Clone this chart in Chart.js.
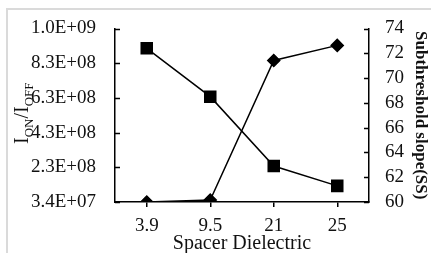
<!DOCTYPE html>
<html>
<head>
<meta charset="utf-8">
<script src="https://cdn.jsdelivr.net/npm/chart.js@4/dist/chart.umd.min.js"></script>
<style>
  html, body { margin: 0; padding: 0; background: #fff; }
  #wrap { width: 431px; height: 253px; }
</style>
</head>
<body>
<div id="wrap"><canvas id="spacerChart"></canvas></div>
<script>
const categories = ["3.9", "9.5", "21", "25"];
const ionIoff = [3.4e7, 4.5e7, 8.22e8, 9.06e8];
const ssValues = [72.4, 68.5, 62.9, 61.3];
const leftTickLabels = ["3.4E+07", "2.3E+08", "4.3E+08", "6.3E+08", "8.3E+08", "1.0E+09"];
const leftMin = 3.4e7, leftMax = 1.0e9;

const serif = "'Liberation Serif', 'Times New Roman', serif";

// frame + inward ticks + the I_ON/I_OFF title with subscripts
const decorPlugin = {
  id: "decor",
  beforeDraw: (chart) => {
    const c = chart.ctx;
    c.save();
    c.fillStyle = "#fff";
    c.fillRect(0, 0, chart.width, chart.height);
    c.strokeStyle = "#dadada";
    c.lineWidth = 2;
    c.beginPath();
    c.moveTo(7, chart.height);
    c.lineTo(7, 9);
    c.lineTo(chart.width, 9);
    c.stroke();
    c.restore();
  },
  afterDraw: (chart) => {
    const c = chart.ctx;
    const y = chart.scales.y, y1 = chart.scales.y1;
    c.save();
    c.strokeStyle = "#000";
    c.lineWidth = 1.5;
    c.beginPath();
    y.ticks.forEach((t, i) => {
      const p = Math.round(y.getPixelForTick(i)) + 0.5;
      c.moveTo(chart.chartArea.left, p);
      c.lineTo(chart.chartArea.left + 5, p);
    });
    y1.ticks.forEach((t, i) => {
      const p = Math.round(y1.getPixelForTick(i)) + 0.5;
      c.moveTo(chart.chartArea.right, p);
      c.lineTo(chart.chartArea.right - 5, p);
    });
    c.stroke();

    // left axis title, rotated, with subscripts
    const parts = [
      { t: "I", size: 20, dy: 0 },
      { t: "ON", size: 13, dy: 5 },
      { t: "/I", size: 20, dy: 0 },
      { t: "OFF", size: 13, dy: 5 },
    ];
    let total = 0;
    parts.forEach((p) => {
      c.font = p.size + "px " + serif;
      p.w = c.measureText(p.t).width;
      total += p.w;
    });
    const cy = (chart.chartArea.top + chart.chartArea.bottom) / 2 - 2;
    c.translate(28, cy);
    c.rotate(-Math.PI / 2);
    c.fillStyle = "#111";
    c.textBaseline = "alphabetic";
    let x = -total / 2;
    parts.forEach((p) => {
      c.font = p.size + "px " + serif;
      c.fillText(p.t, x, p.dy);
      x += p.w;
    });
    c.restore();
  },
};

new Chart(document.getElementById("spacerChart"), {
  type: "line",
  data: {
    labels: categories,
    datasets: [
      {
        label: "ION/IOFF",
        data: ionIoff,
        yAxisID: "y",
        borderColor: "#000",
        backgroundColor: "#000",
        borderWidth: 1.5,
        pointStyle: "rectRot",
        pointRadius: 6,
        pointHoverRadius: 6,
        tension: 0,
      },
      {
        label: "SS",
        data: ssValues,
        yAxisID: "y1",
        borderColor: "#000",
        backgroundColor: "#000",
        borderWidth: 1.5,
        pointStyle: "rect",
        pointRadius: 7.8,
        pointHoverRadius: 7.8,
        tension: 0,
      },
    ],
  },
  options: {
    responsive: true,
    maintainAspectRatio: false,
    animation: false,
    layout: { padding: { top: 25, left: 0, right: 0, bottom: 0 } },
    plugins: {
      legend: { display: false },
      tooltip: { enabled: false },
    },
    scales: {
      x: {
        offset: true,
        afterFit: (scale) => { scale.height = 51; },
        grid: { drawOnChartArea: false, color: "#000", lineWidth: 1.5, tickLength: 5 },
        border: { color: "#000", width: 1.5 },
        ticks: { color: "#111", padding: 8, font: { family: serif, size: 19 } },
        title: {
          display: true,
          text: "Spacer Dielectric",
          color: "#111",
          padding: { top: 0, bottom: -1 },
          font: { family: serif, size: 20, lineHeight: 1 },
        },
      },
      y: {
        position: "left",
        min: leftMin,
        max: leftMax,
        afterFit: (scale) => { scale.width = 115; },
        afterBuildTicks: (scale) => {
          scale.ticks = leftTickLabels.map((l, i) => ({
            value: leftMin + (i * (leftMax - leftMin)) / (leftTickLabels.length - 1),
          }));
        },
        grid: { drawOnChartArea: false, drawTicks: false },
        border: { color: "#000", width: 1.5 },
        ticks: {
          color: "#111",
          padding: 19,
          autoSkip: false,
          font: { family: serif, size: 19, lineHeight: 1 },
          callback: (value, index) => leftTickLabels[index],
        },
      },
      y1: {
        position: "right",
        min: 60,
        max: 74,
        afterFit: (scale) => { scale.width = 62; },
        grid: { drawOnChartArea: false, drawTicks: false },
        border: { color: "#000", width: 1.5 },
        ticks: {
          color: "#111",
          padding: 16,
          stepSize: 2,
          autoSkip: false,
          font: { family: serif, size: 19, lineHeight: 1 },
        },
        title: {
          display: true,
          text: "Subthreshold slope(SS)",
          color: "#111",
          padding: { top: 0, bottom: 0 },
          font: { family: serif, size: 17, weight: "bold" },
        },
      },
    },
  },
  plugins: [decorPlugin],
});
</script>
</body>
</html>
